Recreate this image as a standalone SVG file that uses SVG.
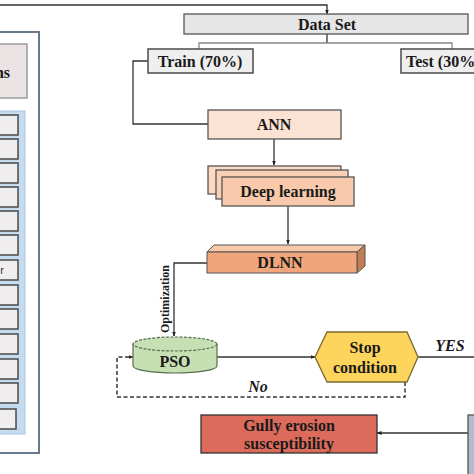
<svg xmlns="http://www.w3.org/2000/svg" width="474" height="474" viewBox="0 0 474 474">
<defs>
<marker id="ah" viewBox="0 0 10 10" refX="9" refY="5" markerWidth="5" markerHeight="5" orient="auto" markerUnits="userSpaceOnUse">
<path d="M0,1 L10,5 L0,9 z" fill="#222"/>
</marker>
<style>
.t{font-family:"Liberation Serif","Times New Roman",serif;font-weight:bold;font-size:16px;fill:#1a1a1a;text-anchor:middle}
.ti{font-family:"Liberation Serif","Times New Roman",serif;font-weight:bold;font-style:italic;font-size:16px;fill:#1a1a1a;text-anchor:middle}
.ln{fill:none;stroke:#333;stroke-width:1.3}
.dl{fill:none;stroke:#333;stroke-width:1.5;stroke-dasharray:4,2.5}
.sb{fill:#efeded;stroke:#4a4a4a;stroke-width:1.5}
.box{stroke:#555;stroke-width:1.3}
</style>
</defs>
<rect width="474" height="474" fill="#fff"/>

<g id="left-panel">
<rect x="-10" y="32" width="49" height="421" fill="#fff" stroke="#66798e" stroke-width="2"/>
<rect x="-10" y="44" width="37" height="54" fill="#ece4e4" stroke="#8c8c8c" stroke-width="1.3"/>
<text x="10" y="78" class="t" style="text-anchor:end">ns</text>
<rect x="-10" y="111" width="35" height="323" fill="#c5dbf0" stroke="#a9c4e0" stroke-width="1"/>
<rect class="sb" x="-10" y="115" width="28" height="20"/>
<rect class="sb" x="-10" y="139" width="28" height="20"/>
<rect class="sb" x="-10" y="163" width="28" height="20"/>
<rect class="sb" x="-10" y="187" width="28" height="20"/>
<rect class="sb" x="-10" y="211" width="28" height="20"/>
<rect class="sb" x="-10" y="235" width="28" height="20"/>
<rect class="sb" x="-10" y="260" width="28" height="20"/>
<text x="4" y="274" style="font-family:'Liberation Sans',Arial,sans-serif;font-size:11px;fill:#333;text-anchor:end">r</text>
<rect class="sb" x="-10" y="285" width="28" height="20"/>
<rect class="sb" x="-10" y="309" width="28" height="20"/>
<rect class="sb" x="-10" y="334" width="28" height="20"/>
<rect class="sb" x="-10" y="359" width="28" height="20"/>
<rect class="sb" x="-10" y="383" width="28" height="20"/>
<rect class="sb" x="-10" y="409" width="26" height="20"/>
</g>

<g id="connectors">
<polyline class="ln" points="0,5 327,5 327,14" marker-end="url(#ah)"/>
<polyline class="ln" points="327,34 327,43"/>
<polyline class="ln" points="199,49 199,43 452,43 452,49" style="stroke:#888"/>
<polyline class="ln" points="148,61 133,61 133,124 208,124"/>
<line class="ln" x1="274" y1="139" x2="274" y2="165" marker-end="url(#ah)"/>
<line class="ln" x1="288" y1="206" x2="288" y2="244" marker-end="url(#ah)"/>
<polyline class="ln" points="207,263 174,263 174,336" marker-end="url(#ah)"/>
<text x="0" y="0" transform="translate(169,299) rotate(-90)" class="t" style="font-size:12px">Optimization</text>
<line class="ln" x1="217" y1="357" x2="315" y2="357" marker-end="url(#ah)"/>
<line class="ln" x1="418" y1="357" x2="474" y2="357"/>
<text x="450" y="351" class="ti">YES</text>
<polyline class="dl" points="405,382 405,397 117,397 117,357 133,357" marker-end="url(#ah)"/>
<text x="258" y="392" class="ti">No</text>
<line class="ln" x1="468" y1="433" x2="377" y2="433" marker-end="url(#ah)"/>
</g>

<g id="dataset">
<rect x="184" y="14" width="284" height="20" fill="#e6e6e6" class="box"/>
<text x="327" y="30" class="t">Data Set</text>
</g>

<g id="train">
<rect x="148" y="49" width="105" height="24" fill="#efefef" class="box" style="stroke-width:1.6"/>
<text x="200" y="67" class="t">Train (70%)</text>
</g>

<g id="test">
<rect x="401" y="49" width="90" height="24" fill="#efefef" class="box" style="stroke-width:1.6"/>
<text x="406" y="67" class="t" style="text-anchor:start">Test (30%)</text>
</g>

<g id="ann">
<rect x="208" y="110" width="133" height="29" fill="#fbe2d3" class="box"/>
<text x="274" y="130" class="t">ANN</text>
</g>

<g id="deep-learning">
<rect x="208" y="166" width="133" height="28" fill="#fbd9c4" class="box"/>
<rect x="216" y="170" width="132" height="29" fill="#f9d0b5" class="box"/>
<rect x="222" y="177" width="132" height="29" fill="#f8caab" class="box"/>
<text x="288" y="197" class="t">Deep learning</text>
</g>

<g id="dlnn">
<polygon points="207,252 214,245 365,245 357,252" fill="#f8c9a8" stroke="#555" stroke-width="1"/>
<polygon points="357,252 365,245 365,266 357,273" fill="#c27d55" stroke="#555" stroke-width="1"/>
<rect x="207" y="252" width="150" height="21" fill="#f0a57a" stroke="#555" stroke-width="1"/>
<text x="280" y="268" class="t">DLNN</text>
</g>

<g id="pso">
<path d="M133,344 L133,366 A42,7 0 0 0 217,366 L217,344" fill="#c6e0b4" stroke="#5a6e50" stroke-width="1.2"/>
<ellipse cx="175" cy="344" rx="42" ry="7" fill="#c6e0b4" stroke="#5a6e50" stroke-width="1.2" stroke-dasharray="3,1.5"/>
<text x="175" y="367" class="t">PSO</text>
</g>

<g id="stop">
<polygon points="315,357 327,332 407,332 418,357 407,382 327,382" fill="#fdd45c" stroke="#7a6a30" stroke-width="1.3"/>
<text x="365" y="353" class="t">Stop</text>
<text x="365" y="373" class="t">condition</text>
</g>

<g id="gully">
<rect x="201" y="415" width="176" height="38" fill="#dd6b5b" stroke="#333" stroke-width="1.3"/>
<text x="289" y="431" class="t">Gully erosion</text>
<text x="289" y="449" class="t">susceptibility</text>
</g>

<g id="right-box">
<rect x="468" y="415" width="20" height="70" fill="#b3bbd0" stroke="#555" stroke-width="1.3"/>
</g>
</svg>
